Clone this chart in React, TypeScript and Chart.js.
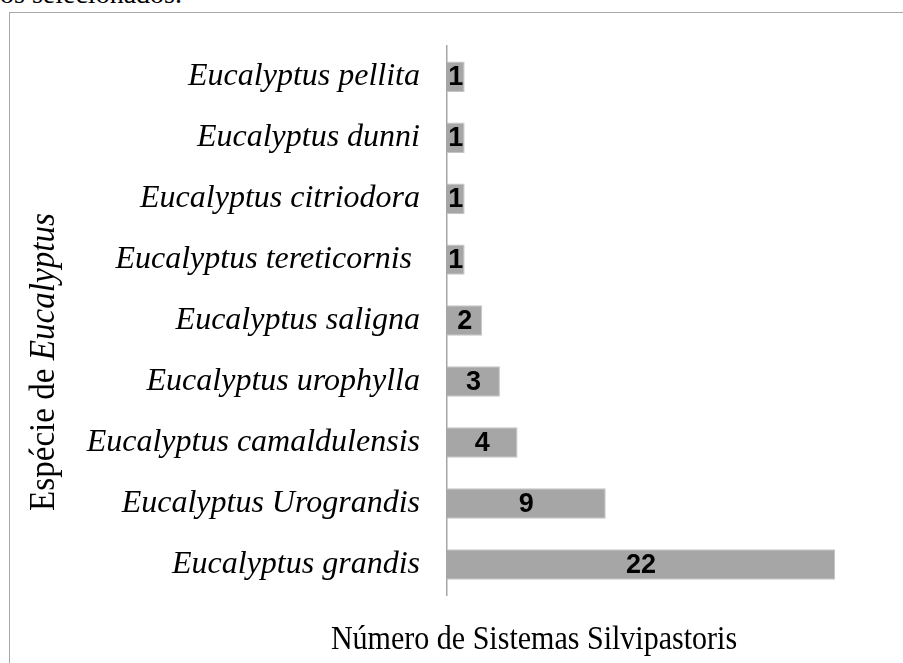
import React, { useEffect, useRef } from "react";
import { Chart, registerables } from "chart.js";

Chart.register(...registerables);

const categories = [
  "Eucalyptus pellita",
  "Eucalyptus dunni",
  "Eucalyptus citriodora",
  "Eucalyptus tereticornis ",
  "Eucalyptus saligna",
  "Eucalyptus urophylla",
  "Eucalyptus camaldulensis",
  "Eucalyptus Urograndis",
  "Eucalyptus grandis",
];
const values = [1, 1, 1, 1, 2, 3, 4, 9, 22];
const xTitle = "Número de Sistemas Silvipastoris";
const yTitleNormal = "Espécie de ";
const yTitleItalic = "Eucalyptus";
const captionText = "os selecionados.";

const labelsPlugin = {
  id: "barLabels",
  afterDatasetsDraw(chart: any) {
    const ctx = chart.ctx;
    const meta = chart.getDatasetMeta(0);
    ctx.save();
    ctx.fillStyle = "#000";
    ctx.font = "bold 27px 'Liberation Sans', Arial, sans-serif";
    ctx.textAlign = "center";
    ctx.textBaseline = "middle";
    meta.data.forEach((bar: any, i: number) => {
      const cx = (bar.x + bar.base) / 2;
      ctx.fillText(String(values[i]), cx, bar.y + 1);
    });
    ctx.restore();
  },
};

const titlesPlugin = {
  id: "axisTitles",
  afterDraw(chart: any) {
    const ctx = chart.ctx;
    ctx.save();
    ctx.fillStyle = "#000";
    ctx.translate(534, 640);
    ctx.scale(0.91, 1);
    ctx.font = "33px 'Liberation Serif', 'Times New Roman', serif";
    ctx.textAlign = "center";
    ctx.textBaseline = "middle";
    ctx.fillText(xTitle, 0, 0);
    ctx.restore();

    // rotated y title with mixed styles
    ctx.save();
    ctx.fillStyle = "#000";
    ctx.textBaseline = "middle";
    ctx.translate(45, 362);
    ctx.rotate(-Math.PI / 2);
    ctx.scale(0.92, 1);
    const normalFont = "36px 'Liberation Serif', 'Times New Roman', serif";
    const italicFont = "italic 36px 'Liberation Serif', 'Times New Roman', serif";
    ctx.font = normalFont;
    const w1 = ctx.measureText(yTitleNormal).width;
    ctx.font = italicFont;
    const w2 = ctx.measureText(yTitleItalic).width;
    const start = -(w1 + w2) / 2;
    ctx.textAlign = "left";
    ctx.font = normalFont;
    ctx.fillText(yTitleNormal, start, 0);
    ctx.font = italicFont;
    ctx.fillText(yTitleItalic, start + w1, 0);
    ctx.restore();
  },
};

export default function App() {
  const canvasRef = useRef<HTMLCanvasElement | null>(null);

  useEffect(() => {
    if (!canvasRef.current) return;
    const chart = new Chart(canvasRef.current, {
      type: "bar",
      data: {
        labels: categories,
        datasets: [
          {
            data: values,
            backgroundColor: "#a6a6a6",
            borderColor: "#c4c4c4",
            borderWidth: 1,
            barPercentage: 0.5,
            categoryPercentage: 1,
          },
        ],
      },
      options: {
        indexAxis: "y",
        animation: false,
        responsive: false,
        maintainAspectRatio: false,
        layout: { padding: { top: 40, bottom: 68, right: 68, left: 0 } },
        plugins: {
          legend: { display: false },
          tooltip: { enabled: false },
        },
        scales: {
          x: { display: false, min: 0, max: 22 },
          y: {
            grid: { display: false, drawTicks: false },
            border: { display: true, color: "#a6a6a6", width: 1.5 },
            ticks: {
              color: "#000",
              padding: 27,
              font: {
                family: "'Liberation Serif', 'Times New Roman', serif",
                size: 32,
                style: "italic",
              },
            },
            afterFit(scale: any) {
              scale.width = 447;
            },
          },
        },
      } as any,
      plugins: [labelsPlugin, titlesPlugin],
    });
    return () => chart.destroy();
  }, []);

  return (
    <div
      style={{
        position: "fixed",
        left: 0,
        top: 0,
        width: 903,
        height: 663,
        background: "#fff",
        overflow: "hidden",
      }}
    >
      <div
        style={{
          position: "absolute",
          left: 0,
          top: -22,
          fontFamily: "'Liberation Serif', 'Times New Roman', serif",
          fontSize: 28,
          lineHeight: "32px",
          color: "#000",
          whiteSpace: "nowrap",
        }}
      >
        {captionText}
      </div>
      <div
        style={{
          position: "absolute",
          left: 9,
          top: 12,
          width: 1000,
          height: 1000,
          border: "1.5px solid #a8a8a8",
        }}
      />
      <canvas
        ref={canvasRef}
        width={903}
        height={663}
        style={{ position: "absolute", left: 0, top: 0, width: 903, height: 663 }}
      />
    </div>
  );
}
